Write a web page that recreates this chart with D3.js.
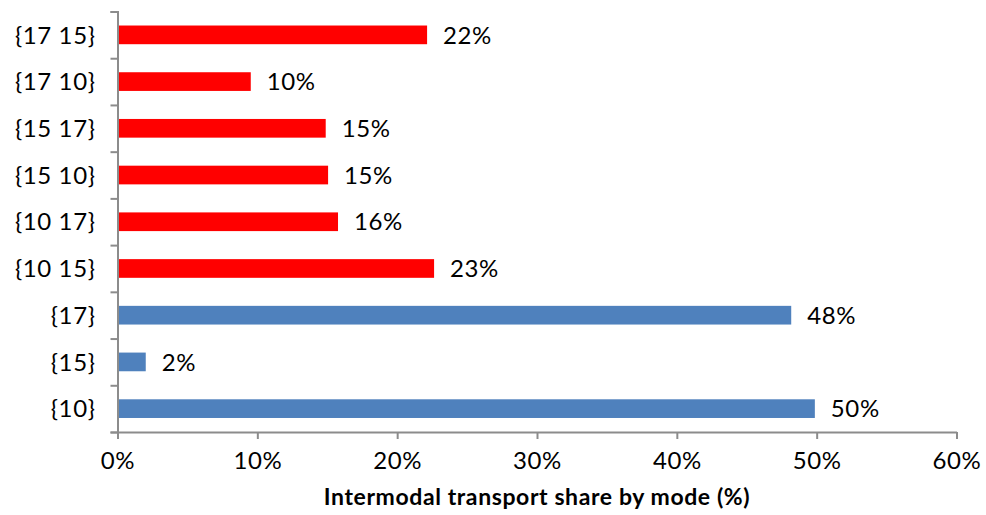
<!DOCTYPE html>
<html>
<head>
<meta charset="utf-8">
<script src="https://cdn.jsdelivr.net/npm/d3@7"></script>
<style>
  body { margin: 0; background: #fff; }
  text { font-family: "Lato", "Noto Sans", sans-serif; fill: #000; letter-spacing: 0.6px; }
</style>
</head>
<body>
<div class="chart"></div>
<script>
// categories top to bottom
const categories = ["{17 15}", "{17 10}", "{15 17}", "{15 10}", "{10 17}", "{10 15}", "{17}", "{15}", "{10}"];
const shares = [0.2214, 0.0953, 0.1489, 0.1506, 0.1577, 0.2264, 0.4818, 0.0202, 0.4987];
const groups = ["pair", "pair", "pair", "pair", "pair", "pair", "single", "single", "single"];
const xTicks = [0, 0.1, 0.2, 0.3, 0.4, 0.5, 0.6];
const axisTitle = "Intermodal transport share by mode (%)";

const colors = { pair: "#ff0000", single: "#4f81bd" };

const width = 986;
const height = 515;
const margin = { top: 11.5, right: 29.5, bottom: 83, left: 117.5 };
const innerW = width - margin.left - margin.right;
const innerH = height - margin.top - margin.bottom;

const data = categories.map((c, i) => ({ cat: c, value: shares[i], group: groups[i] }));

const svg = d3.select(".chart")
  .append("svg")
  .attr("width", width)
  .attr("height", height);

const g = svg.append("g")
  .attr("transform", "translate(" + margin.left + "," + margin.top + ")");

const x = d3.scaleLinear().domain([0, 0.6]).range([0, innerW]);

const y = d3.scaleBand()
  .domain(categories)
  .range([0, innerH])
  .paddingInner(0.6)
  .paddingOuter(0.3);

// boundary ticks between the categories
const yEdge = d3.scaleLinear().domain([0, categories.length]).range([0, innerH]);

const axisColor = "#8c8c8c";

// bars
g.selectAll("rect.bar")
  .data(data)
  .join("rect")
  .attr("class", "bar")
  .attr("x", x(0))
  .attr("y", d => y(d.cat))
  .attr("width", d => x(d.value) - x(0))
  .attr("height", y.bandwidth())
  .attr("fill", d => colors[d.group]);

// value labels
g.selectAll("text.val")
  .data(data)
  .join("text")
  .attr("class", "val")
  .attr("x", d => x(d.value) + 16)
  .attr("y", d => y(d.cat) + y.bandwidth() / 2)
  .attr("dy", "0.36em")
  .style("font-size", "24px")
  .text(d => d3.format(".0%")(d.value));

// left axis: boundary ticks
const yAxis = g.append("g")
  .call(d3.axisLeft(yEdge)
    .tickValues(d3.range(categories.length + 1))
    .tickSize(7)
    .tickFormat(""));
yAxis.select(".domain").attr("stroke", axisColor).attr("stroke-width", 2);
yAxis.selectAll(".tick line").attr("stroke", axisColor).attr("stroke-width", 2);

// category labels
g.append("g")
  .selectAll("text")
  .data(categories)
  .join("text")
  .attr("x", -22)
  .attr("y", d => y(d) + y.bandwidth() / 2)
  .attr("dy", "0.36em")
  .attr("text-anchor", "end")
  .style("font-size", "24px")
  .text(d => d);

// bottom axis
const xAxis = g.append("g")
  .attr("transform", "translate(0," + innerH + ")")
  .call(d3.axisBottom(x)
    .tickValues(xTicks)
    .tickSize(7)
    .tickSizeOuter(0)
    .tickPadding(13)
    .tickFormat(d3.format(".0%")));
xAxis.select(".domain").attr("stroke", axisColor).attr("stroke-width", 2);
xAxis.selectAll(".tick line").attr("stroke", axisColor).attr("stroke-width", 2);
xAxis.selectAll(".tick text")
  .style("font-size", "24px")
  .style("font-family", "Lato, 'Noto Sans', sans-serif")
  .attr("fill", "#000");

// axis title
g.append("text")
  .attr("x", innerW / 2)
  .attr("y", innerH + 73)
  .attr("text-anchor", "middle")
  .style("font-size", "23px")
  .style("font-weight", "bold")
  .text(axisTitle);
</script>
</body>
</html>
